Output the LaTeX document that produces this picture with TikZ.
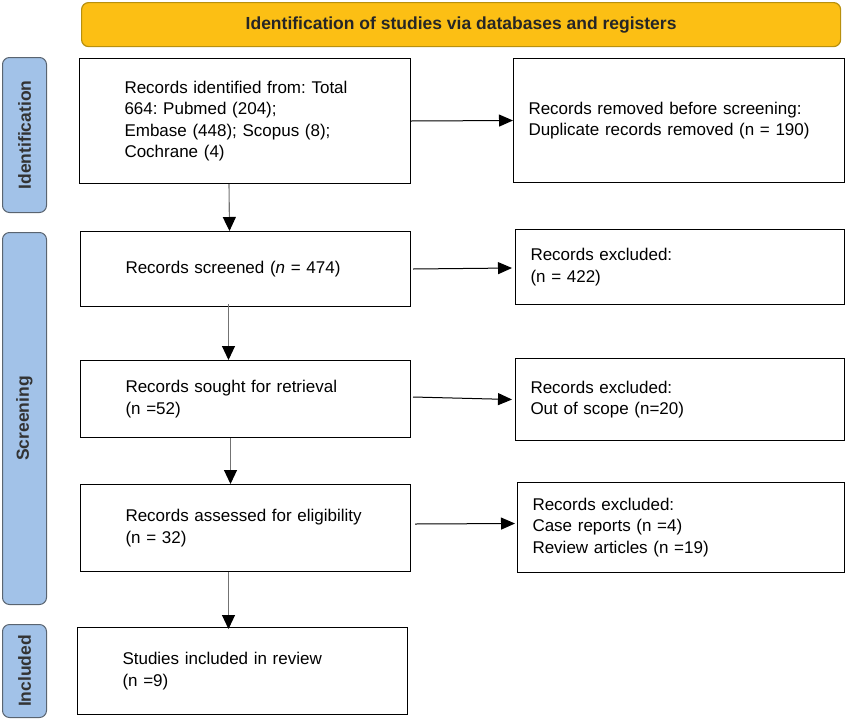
\documentclass[tikz,border=0pt]{standalone}
\usepackage{fontspec}
\setmainfont{Liberation Sans}
\usetikzlibrary{arrows.meta,calc}
\definecolor{banner}{HTML}{FCBF14}
\definecolor{bannerline}{HTML}{B8900E}
\definecolor{side}{HTML}{A2C2E8}
\definecolor{sideline}{HTML}{5A6470}
\definecolor{sidetext}{HTML}{333333}
\frenchspacing
\begin{document}
\begin{tikzpicture}[x=1pt,y=-1pt,
  every node/.style={font=\fontsize{17}{21.5}\selectfont},
  lbox/.style={draw=black, line width=1pt, rectangle, align=left, inner xsep=45pt, inner ysep=0pt, anchor=north west},
  rbox/.style={draw=black, line width=1pt, rectangle, align=left, inner xsep=15pt, inner ysep=0pt, anchor=north west},
  sidebox/.style={draw=sideline, fill=side, line width=1pt, rounded corners=7pt, anchor=north west, minimum width=44pt, inner sep=0pt},
  sidelabel/.style={rotate=90, text=sidetext, font=\bfseries\fontsize{17.5}{20}\selectfont},
  harr/.style={draw=black, line width=1pt, -{Triangle[length=14pt,width=12pt]}},
  varr/.style={draw=black!55, line width=1.1pt, -{Triangle[length=14pt,width=13pt,color=black]}}
]
\useasboundingbox (0,0) rectangle (848,718);
% banner
\node[draw=bannerline, fill=banner, line width=1.2pt, rounded corners=7pt, anchor=north west,
  minimum width=759pt, minimum height=44pt, inner sep=0pt,
  font=\bfseries\fontsize{17.5}{20}\selectfont, text=black!85] (ban) at (81,2)
  {Identification of studies via databases and registers};
% side labels
\node[sidebox, minimum height=155pt] (sid) at (2,57) {};
\node[sidelabel] (sidt) at (sid.center) {Identification};
\node[sidebox, minimum height=372pt] (ssc) at (2,232) {};
\node[sidelabel] (ssct) at (ssc.center) {Screening};
\node[sidebox, minimum height=93pt] (sin) at (2,624) {};
\node[sidelabel] (sint) at (sin.center) {Included};
% left boxes
\node[lbox, minimum width=331pt, minimum height=125pt, text width=241pt] (b1) at (79,58)
  {Records identified from: Total\\664: Pubmed (204);\\Embase (448); Scopus (8);\\Cochrane (4)};
\node[lbox, minimum width=330pt, minimum height=75pt, text width=240pt] (b2) at (80,231)
  {Records screened (\textit{n} = 474)};
\node[lbox, minimum width=330pt, minimum height=77pt, text width=240pt] (b3) at (80,360)
  {Records sought for retrieval\\(n =52)};
\node[lbox, minimum width=330pt, minimum height=87pt, text width=240pt] (b4) at (80,484)
  {Records assessed for eligibility\\(n = 32)};
\node[lbox, minimum width=330pt, minimum height=87pt, text width=240pt] (b5) at (77,627)
  {Studies included in review\\(n =9)};
% right boxes
\node[rbox, minimum width=331pt, minimum height=124pt, text width=301pt] (r1) at (513,58)
  {Records removed before screening:\\Duplicate records removed (n = 190)};
\node[rbox, minimum width=329pt, minimum height=75pt, text width=299pt] (r2) at (515,229)
  {Records excluded:\\(n = 422)};
\node[rbox, minimum width=329pt, minimum height=82pt, text width=299pt] (r3) at (515,358)
  {Records excluded:\\Out of scope (n=20)};
\node[rbox, minimum width=327pt, minimum height=90pt, text width=297pt] (r4) at (517,482)
  {Records excluded:\\Case reports (n =4)\\Review articles (n =19)};
% horizontal arrows
\draw[harr] (b1.east) -- (r1.west);
\draw[harr] ([xshift=2pt]b2.east) -- ([xshift=-3pt,yshift=-1pt]r2.west);
\draw[harr] ([xshift=2pt,yshift=2pt]b3.east) -- ([xshift=-3pt]r3.west);
\draw[harr] ([xshift=4pt,yshift=4pt]b4.east) -- ([xshift=-2pt,yshift=4pt]r4.west);
% vertical arrows
\draw[varr] ([xshift=-16pt]b1.south) -- ([xshift=-16pt]b2.north);
\draw[varr] ([xshift=-17pt,yshift=3pt]b2.south) -- ([xshift=-17pt]b3.north);
\draw[varr] ([xshift=-15pt]b3.south) -- ([xshift=-15pt]b4.north);
\draw[varr] ([xshift=-17pt]b4.south) -- ([xshift=-14pt,yshift=-2pt]b5.north);
\end{tikzpicture}
\end{document}
